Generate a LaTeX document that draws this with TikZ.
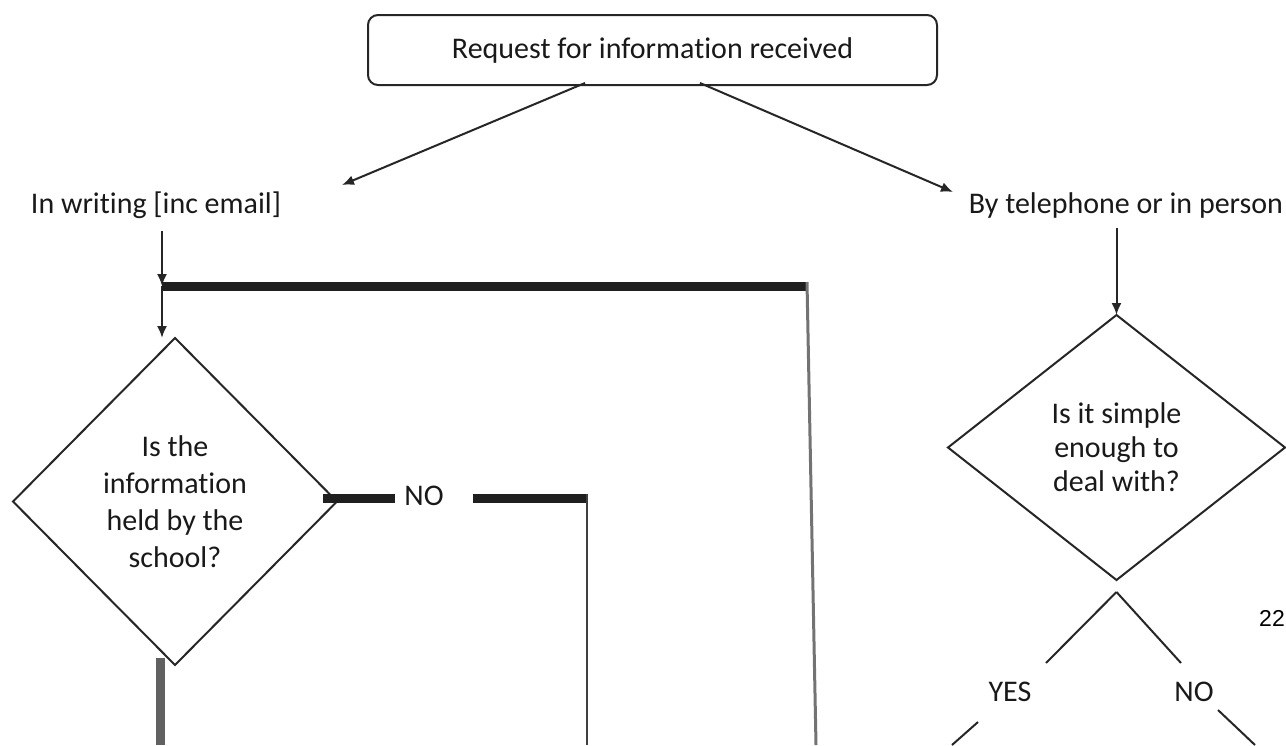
\documentclass[tikz,border=0pt]{standalone}
\usepackage{fontspec}
\setmainfont{Carlito}[Ligatures=NoCommon]
\newfontfamily\pagenofont{Liberation Sans}
\usetikzlibrary{shapes.geometric,arrows.meta}
\tikzset{
    >={Latex[length=12pt,width=10pt]},
    plain/.style={inner sep=0pt,font=\fontsize{30}{37}\selectfont},
    decision/.style={diamond,draw,inner sep=0pt,outer sep=0pt,align=center},
    heavy/.style={line width=9pt,color=black!88},
}

\begin{document}
\begin{tikzpicture}[x=1pt,y=-1pt,line width=2pt,color=black!85,text=black!90]
    \useasboundingbox (0,0) rectangle (1286,745);
    \node[draw,rounded corners=10pt,minimum width=569pt,minimum height=70pt,
          plain] (request) at (652.5,50) {Request for information received};
    \node[plain,anchor=base] (writing) at (156,213) {In writing [inc email]};
    \node[plain,anchor=base east] (phone) at (1284,213) {By telephone or in person};
    \coordinate (writingTip) at (342,185);
    \coordinate (phoneTip) at (953,192);
    \draw[->] ([shift={(-67.5pt,3pt)}]request.south) -- (writingTip);
    \draw[->] ([shift={(47.5pt,3pt)}]request.south) -- (phoneTip);
    % written requests
    \node[decision,minimum width=324pt,minimum height=327pt,
          font=\fontsize{30}{37}\selectfont] (qHeld) at (175,501.5)
          {Is the\\information\\held by the\\school?};
    \coordinate (joinL) at (162,286);
    \coordinate (joinR) at (807,286);
    \draw[->] ([yshift=-12pt]writing.south -| joinL) -- (joinL);
    \draw[->] (joinL) -- (joinL |- qHeld.north);
    \draw[heavy] (joinL) -- (joinR);
    \coordinate (farDown) at (816,745);
    \draw[line width=3pt,black!55] ([yshift=4pt]joinR) -- (farDown);
    \node[plain] (noHeld) at (424,496) {NO};
    \coordinate (noCorner) at (587,498);
    \coordinate (noDown) at (587,745);
    \draw[heavy] ([xshift=-14pt]qHeld.east |- noCorner) -- ([xshift=-8pt]noHeld.west |- noCorner);
    \draw[heavy] ([xshift=28pt]noHeld.east |- noCorner) -- ([xshift=1.25pt]noCorner);
    \draw[line width=2.5pt,black!75] ([yshift=4.5pt]noCorner) -- (noDown);
    \coordinate (heldDown) at (160.5,745);
    \draw[line width=9pt,black!62] ([shift={(-14.5pt,7pt)}]qHeld.south) -- (heldDown);
    % phone or in person
    \node[decision,minimum width=337pt,minimum height=265pt,
          font=\fontsize{30}{34}\selectfont] (qSimple) at (1116.5,447.5)
          {Is it simple\\enough to\\deal with?};
    \draw[->] ([yshift=-9pt]phone.south -| qSimple.north) -- (qSimple.north);
    \coordinate (split) at ([yshift=-12pt]qSimple.south);
    \coordinate (yesEnd) at (1046,663);
    \coordinate (noEnd) at (1181,663);
    \draw (split) -- (yesEnd);
    \draw (split) -- (noEnd);
    \node[plain] (yes) at (1010,692) {YES};
    \node[plain] (noSimple) at (1194,692) {NO};
    \coordinate (yesOut) at (952,745);
    \coordinate (noOut) at (1255,745);
    \draw ([shift={(-32pt,-30pt)}]yes.center) -- (yesOut);
    \draw ([shift={(24pt,-18pt)}]noSimple.center) -- (noOut);
    \node[font=\pagenofont\fontsize{23}{23}\selectfont,text=black] (pageNo) at (1272,618) {22};
\end{tikzpicture}
\end{document}
